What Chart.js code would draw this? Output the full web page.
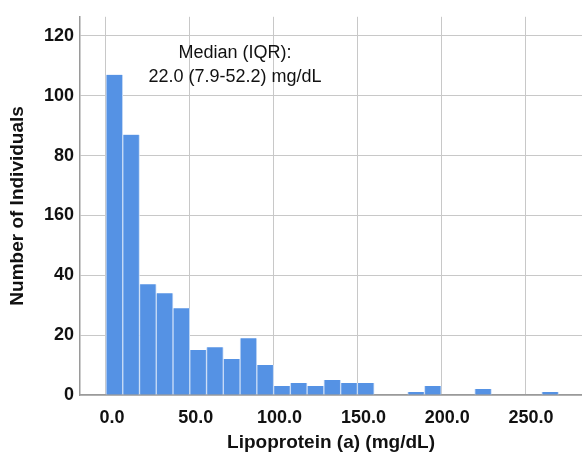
<!DOCTYPE html>
<html>
<head>
<meta charset="utf-8">
<script src="https://cdn.jsdelivr.net/npm/chart.js@4.4.1/dist/chart.umd.min.js"></script>
<style>
html,body{margin:0;padding:0;background:#fff;}
#wrap{width:582px;height:455px;position:relative;}
</style>
</head>
<body>
<div id="wrap"><canvas id="c" width="582" height="455"></canvas></div>
<script>
// Histogram bins (mg/dL), bin width 10
const binStarts = [0,10,20,30,40,50,60,70,80,90,100,110,120,130,140,150,160,170,180,190,200,210,220,230,240,250,260];
const counts    = [107,87,37,34,29,15,16,12,19,10,3,4,3,5,4,4,0,0,1,3,0,0,2,0,0,0,1];
const binWidth = 10;
const xTickValues = [0,50,100,150,200,250];
const xTickLabels = ["0.0","50.0","100.0","150.0","200.0","250.0"];
const yTickValues = [0,20,40,60,80,100,120];
const yTickLabels = ["0","20","40","160","80","100","120"];
const annotationLines = ["Median (IQR):","22.0 (7.9-52.2) mg/dL"];
const xTitle = "Lipoprotein (a) (mg/dL)";
const yTitle = "Number of Individuals";

const data = binStarts.map((s,i)=>({x:s+binWidth/2, y:counts[i]}));

const annot = {
  id:'annot',
  afterDatasetsDraw(chart){
    const {ctx, scales:{x,y}} = chart;
    ctx.save();
    ctx.fillStyle='#111';
    ctx.font='18px "Liberation Sans", Arial, sans-serif';
    ctx.textAlign='center';
    ctx.textBaseline='middle';
    const cx = x.getPixelForValue(77);
    ctx.fillText(annotationLines[0], cx, y.getPixelForValue(114.3));
    ctx.fillText(annotationLines[1], cx, y.getPixelForValue(106.4));
    ctx.restore();
  }
};

const FONT = '"Liberation Sans", Arial, sans-serif';

new Chart(document.getElementById('c'),{
  type:'bar',
  data:{datasets:[{
    data:data,
    backgroundColor:'#5592e4',
    borderColor:'#c9dcf6',
    borderWidth:{left:1,right:1,top:0,bottom:0},
    borderSkipped:false,
    barPercentage:1,
    categoryPercentage:1,
    grouped:false
  }]},
  options:{
    responsive:false,
    animation:false,
    layout:{padding:{top:14,right:0,left:0,bottom:0}},
    plugins:{legend:{display:false},tooltip:{enabled:false}},
    scales:{
      x:{
        type:'linear',
        offset:false,
        min:-15.5, max:284,
        afterBuildTicks(s){ s.ticks = xTickValues.map(v=>({value:v})); },
        afterFit(s){ s.height = 60; },
        grid:{color:'#c8c8c8', lineWidth:1, drawTicks:false, offset:false},
        border:{color:'#9a9a9a', width:1.5},
        ticks:{
          padding:12, labelOffset:6, maxRotation:0, autoSkip:false,
          color:'#111',
          font:{family:FONT, size:18, weight:'bold'},
          callback(v){ const i = xTickValues.indexOf(v); return i>=0?xTickLabels[i]:''; }
        },
        title:{display:true, text:xTitle, color:'#111', padding:{top:4,bottom:1},
          font:{family:FONT, size:19, weight:'bold'}}
      },
      y:{
        min:0, max:126.4,
        afterBuildTicks(s){ s.ticks = yTickValues.map(v=>({value:v})); },
        afterFit(s){ s.width = 80; },
        grid:{color:'#c8c8c8', lineWidth:1, drawTicks:false},
        border:{color:'#9a9a9a', width:1.5},
        ticks:{
          padding:6, color:'#111',
          font:{family:FONT, size:18, weight:'bold'},
          callback(v){ const i = yTickValues.indexOf(v); return i>=0?yTickLabels[i]:''; }
        },
        title:{display:true, text:yTitle, color:'#111', padding:{top:6,bottom:4},
          font:{family:FONT, size:19, weight:'bold'}}
      }
    }
  },
  plugins:[annot]
});
</script>
</body>
</html>
